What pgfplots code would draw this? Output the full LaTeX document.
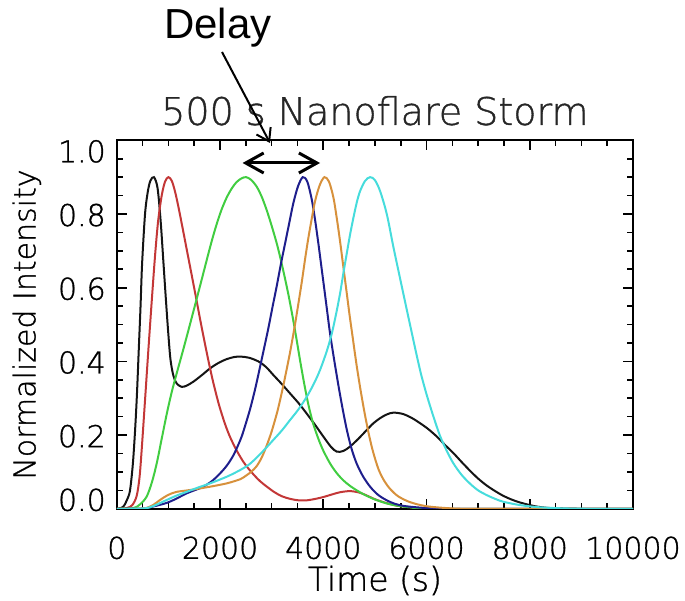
\documentclass[border=0pt]{standalone}
\usepackage{pgfplots}
\pgfplotsset{compat=1.18}
\usepackage{fontspec}
\setmainfont{DejaVu Sans ExtraLight}[BoldFont={DejaVu Sans ExtraLight}, BoldFeatures={FakeBold=1.0}]
\newfontfamily\delayfont{Liberation Sans}
\usetikzlibrary{arrows.meta}
\definecolor{cblack}{RGB}{20,20,20}
\definecolor{cred}{RGB}{195,55,55}
\definecolor{cgreen}{RGB}{65,205,65}
\definecolor{cblue}{RGB}{30,30,140}
\definecolor{corange}{RGB}{215,145,60}
\definecolor{ccyan}{RGB}{70,220,220}

\pgfplotstableread{
x y
0 0
120 0.005
200 0.025
256 0.05
310 0.12
353 0.21
390 0.31
425 0.43
460 0.55
490 0.665
547 0.80
600 0.86
650 0.89
720 0.90
790 0.87
850 0.78
905 0.665
955 0.56
998 0.475
1040 0.405
1095 0.362
1160 0.34
1257 0.331
1350 0.334
1483 0.345
1650 0.363
1806 0.381
1960 0.395
2125 0.406
2280 0.412
2400 0.413
2560 0.41
2742 0.40
2890 0.385
3033 0.363
3200 0.338
3357 0.313
3520 0.287
3676 0.259
3840 0.228
4002 0.196
4150 0.168
4262 0.155
4390 0.157
4519 0.169
4680 0.19
4843 0.214
4970 0.232
5101 0.246
5230 0.256
5359 0.261
5550 0.257
5746 0.244
6000 0.22
6200 0.196
6360 0.173
6522 0.151
6680 0.127
6845 0.103
7000 0.082
7168 0.063
7330 0.048
7490 0.035
7650 0.025
7814 0.017
8100 0.007
8400 0.002
9000 0
10000 0
}\tblack

\pgfplotstableread{
x y
0 0
190 0.002
300 0.01
385 0.035
440 0.085
482 0.16
547 0.295
611 0.43
675 0.56
740 0.685
800 0.78
870 0.85
935 0.888
1000 0.90
1065 0.89
1130 0.86
1200 0.815
1280 0.758
1360 0.70
1450 0.635
1535 0.573
1620 0.51
1709 0.447
1790 0.392
1870 0.342
1980 0.282
2097 0.23
2200 0.193
2323 0.158
2450 0.128
2581 0.104
2775 0.075
3033 0.047
3200 0.034
3357 0.027
3520 0.023
3680 0.023
3850 0.027
4002 0.032
4170 0.039
4326 0.045
4519 0.048
4700 0.044
4843 0.036
5000 0.026
5165 0.018
5350 0.011
5500 0.007
6000 0.001
7000 0
10000 0
}\tred

\pgfplotstableread{
x y
0 0
320 0.002
450 0.012
578 0.033
680 0.072
773 0.123
870 0.19
967 0.257
1061 0.315
1161 0.368
1260 0.418
1360 0.47
1460 0.523
1548 0.57
1650 0.625
1742 0.675
1840 0.727
1936 0.773
2030 0.812
2130 0.845
2230 0.870
2323 0.887
2420 0.897
2504 0.90
2600 0.893
2711 0.874
2810 0.846
2905 0.81
3000 0.768
3099 0.72
3170 0.68
3227 0.645
3300 0.598
3357 0.558
3410 0.518
3453 0.484
3500 0.445
3550 0.403
3630 0.34
3711 0.283
3800 0.233
3905 0.19
4000 0.158
4132 0.123
4260 0.097
4390 0.077
4520 0.062
4649 0.05
4800 0.038
4971 0.027
5150 0.018
5300 0.012
5500 0.007
5700 0.004
6200 0
10000 0
}\tgreen

\pgfplotstableread{
x y
0 0
514 0.001
700 0.006
967 0.016
1160 0.028
1354 0.042
1520 0.051
1676 0.06
1850 0.076
2000 0.096
2130 0.117
2258 0.145
2388 0.185
2452 0.21
2581 0.27
2680 0.325
2775 0.385
2860 0.44
2936 0.49
3020 0.55
3099 0.605
3180 0.665
3260 0.72
3340 0.775
3421 0.83
3510 0.875
3602 0.90
3690 0.888
3776 0.84
3840 0.785
3905 0.72
3970 0.65
4035 0.58
4090 0.52
4132 0.475
4210 0.405
4293 0.335
4370 0.275
4455 0.215
4550 0.162
4649 0.122
4770 0.088
4907 0.06
5060 0.038
5230 0.023
5400 0.013
5600 0.007
6000 0.002
6500 0
10000 0
}\tblue

\pgfplotstableread{
x y
0 0
514 0.001
700 0.01
837 0.024
1000 0.038
1161 0.046
1419 0.051
1806 0.06
2130 0.069
2388 0.08
2452 0.085
2600 0.1
2711 0.116
2810 0.14
2905 0.172
3000 0.21
3099 0.258
3160 0.293
3227 0.335
3290 0.378
3357 0.425
3440 0.49
3510 0.55
3583 0.615
3650 0.68
3711 0.735
3780 0.79
3841 0.835
3930 0.878
4022 0.90
4110 0.888
4196 0.845
4260 0.79
4326 0.725
4390 0.655
4455 0.585
4510 0.525
4560 0.475
4640 0.395
4713 0.33
4790 0.268
4874 0.208
4960 0.157
5068 0.108
5180 0.076
5295 0.054
5450 0.034
5682 0.018
6000 0.007
6500 0.001
7000 0
10000 0
}\torange

\pgfplotstableread{
x y
0 0
514 0.001
700 0.007
967 0.024
1160 0.036
1354 0.046
1580 0.058
1806 0.069
2130 0.087
2388 0.105
2560 0.12
2711 0.139
2870 0.162
3033 0.187
3200 0.213
3357 0.241
3520 0.27
3680 0.304
3820 0.34
3938 0.377
4068 0.428
4164 0.475
4250 0.53
4326 0.585
4390 0.64
4455 0.693
4520 0.745
4584 0.79
4650 0.832
4713 0.862
4810 0.89
4907 0.90
5000 0.892
5101 0.862
5230 0.80
5359 0.71
5488 0.625
5618 0.54
5700 0.487
5812 0.415
5900 0.362
6006 0.308
6130 0.252
6264 0.197
6400 0.155
6522 0.123
6680 0.092
6845 0.068
7000 0.05
7168 0.037
7330 0.027
7490 0.019
7814 0.01
8200 0.004
8700 0.001
9200 0
10000 0
}\tcyan

\begin{document}
\begin{tikzpicture}
\useasboundingbox (-58.4pt,-45.6pt) rectangle (284.1pt,254.4pt);
\begin{axis}[
  scale only axis,
  width=258.1pt, height=184.25pt,
  xmin=0, xmax=10000, ymin=0, ymax=1.0,
  xtick={0,2000,4000,6000,8000,10000},
  xticklabels={0,2000,4000,6000,8000,10000},
  ytick={0,0.2,0.4,0.6,0.8,1.0},
  yticklabels={\raisebox{5pt}{0.0},0.2,0.4,0.6,0.8,\raisebox{-5pt}{1.0}},
  minor x tick num=3, minor y tick num=3,
  tick align=inside,
  major tick length=5pt, minor tick length=3pt,
  every tick/.style={line width=0.8pt, black},
  axis line style={line width=1pt, black},
  scaled x ticks=false,
  tick label style={font=\bfseries\fontsize{15}{18}\selectfont, text=black},
  xticklabel style={anchor=base, yshift=-25pt},
  yticklabel style={anchor=base east, xshift=-2pt, yshift=-6pt},
  title={500 s Nanoflare Storm},
  title style={at={(0.5,1)}, anchor=base, yshift=1.7pt, font=\bfseries\fontsize{19}{22}\selectfont, text=black!85},
  xlabel={Time (s)},
  xlabel style={at={([yshift=-41pt]axis description cs:0.5,0)}, anchor=base, font=\bfseries\fontsize{16.5}{20}\selectfont, text=black},
  ylabel={Normalized Intensity},
  ylabel style={at={([xshift=-45pt]axis description cs:0,0.5)}, anchor=center, font=\bfseries\fontsize{15}{18}\selectfont, text=black},
  every axis plot/.append style={line width=1pt, smooth},
]
\addplot[cblack] table {\tblack};
\addplot[cred] table {\tred};
\addplot[cgreen] table {\tgreen};
\addplot[cblue] table {\tblue};
\addplot[corange] table {\torange};
\addplot[ccyan] table {\tcyan};
\end{axis}
\node[font=\delayfont\fontsize{21}{24}\selectfont] at (50.6pt,240.4pt) {Delay};
\draw[line width=1pt, -{Straight Barb[length=6pt,width=8pt]}] (52.6pt,228.4pt) -- (76.6pt,182.9pt);
\draw[line width=1.5pt, {Straight Barb[length=9pt,width=10pt]}-{Straight Barb[length=9pt,width=10pt]}] (62.9pt,172.9pt) -- (101.6pt,172.9pt);
\end{tikzpicture}
\end{document}
